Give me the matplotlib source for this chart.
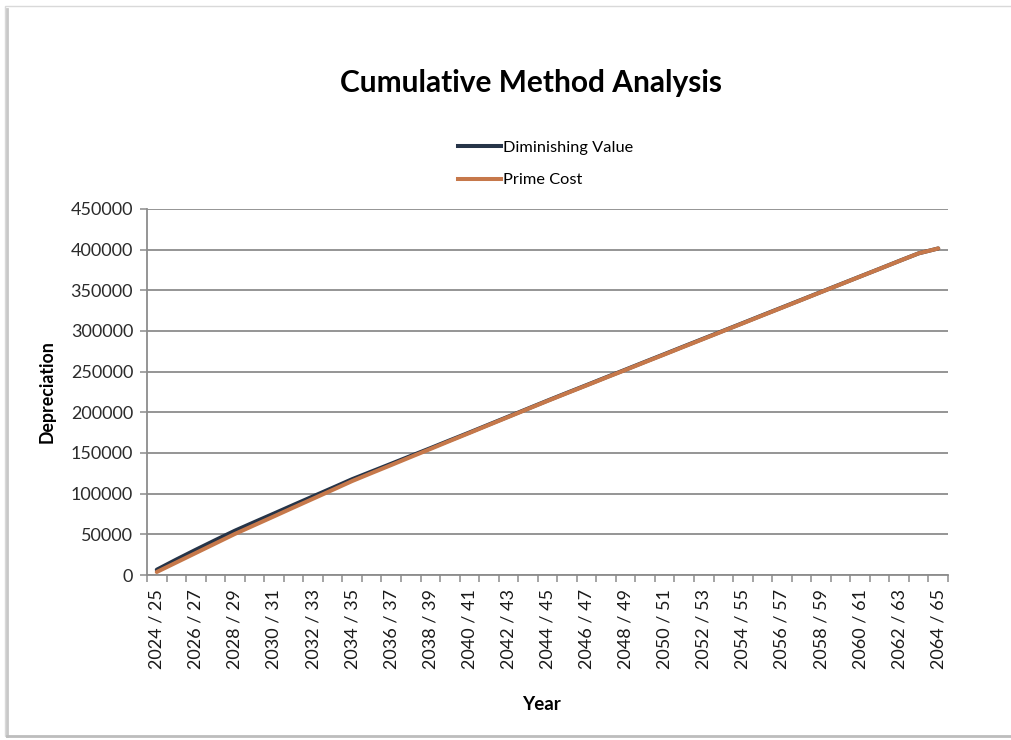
import matplotlib
matplotlib.use("Agg")
import matplotlib.pyplot as plt
from matplotlib.lines import Line2D
from matplotlib.patches import Rectangle
from matplotlib.ticker import FixedLocator, NullFormatter

plt.rcParams['font.family'] = ['Lato', 'DejaVu Sans']

# Financial years 2024/25 .. 2064/65
years = [f"{y} / {str(y + 1)[-2:]}" for y in range(2024, 2065)]

# Cumulative depreciation by method
diminishing_value = [
    6500, 19000, 31100, 42900, 54500, 65100, 75600, 86200, 96700, 107200,
    117800, 127300, 136800, 146400, 155900, 165600, 175200, 185000, 194800, 204600,
    214400, 224000, 233500, 243100, 252600, 262200, 271700, 281300, 290800, 300300,
    309800, 319400, 328900, 338400, 348000, 357500, 367000, 376500, 386100, 395500,
    401500,
]
prime_cost = [
    3700, 15400, 27100, 38800, 50500, 61300, 72100, 83000, 93800, 104600,
    115500, 125400, 135200, 145100, 154900, 164800, 174600, 184500, 194300, 204200,
    214000, 223600, 233100, 242700, 252200, 261800, 271300, 280900, 290400, 300000,
    309500, 319100, 328600, 338200, 347800, 357300, 366900, 376400, 386000, 395500,
    401500,
]

y_ticks = list(range(0, 450001, 50000))

W, H = 1011, 740
fig = plt.figure(figsize=(W / 100, H / 100), dpi=100)

# chart-area frame with a soft shadow on the left and bottom
fig.patches.append(Rectangle((5 / W, 4 / H), 1.2, (730) / H, transform=fig.transFigure,
                             fill=False, edgecolor='#d9d9d9', linewidth=1.0))
fig.lines.append(Line2D([7 / W, 7 / W], [4 / H, 1 - 9 / H], transform=fig.transFigure,
                        color='#c8c8c8', linewidth=2.0))
fig.lines.append(Line2D([7 / W, 1.0], [4 / H, 4 / H], transform=fig.transFigure,
                        color='#bdbdbd', linewidth=2.0))

ax = fig.add_axes([147 / W, 1 - 575 / H, (948 - 147) / W, (575 - 209) / H])

x = list(range(len(years)))
dv_color = '#263448'
pc_color = '#C6784A'
lw = 2.9
ax.plot(x, diminishing_value, color=dv_color, linewidth=lw, solid_capstyle='round',
        label='Diminishing Value', zorder=3)
ax.plot(x, prime_cost, color=pc_color, linewidth=lw, solid_capstyle='round',
        label='Prime Cost', zorder=4)

ax.set_xlim(-0.5, len(years) - 0.5)
ax.set_ylim(0, 450000)

grid_color = '#8c8c8c'
ax.set_yticks(y_ticks)
ax.set_yticklabels([str(v) for v in y_ticks])
ax.yaxis.grid(True, color=grid_color, linewidth=1.3)
ax.set_axisbelow(True)

ax.set_xticks(x[::2])
ax.set_xticklabels(years[::2], rotation=90)
ax.xaxis.set_minor_locator(FixedLocator([i - 0.5 for i in range(len(years) + 1)]))
ax.xaxis.set_minor_formatter(NullFormatter())
ax.tick_params(axis='x', which='major', length=0, pad=10, labelsize=13, labelcolor='#1a1a1a')
ax.tick_params(axis='x', which='minor', length=5, width=1.1, color=grid_color)
ax.tick_params(axis='y', length=5, width=1.1, color=grid_color, pad=5,
               labelsize=13, labelcolor='#2b2b2b')

for side in ('top', 'right'):
    ax.spines[side].set_visible(False)
for side in ('left', 'bottom'):
    ax.spines[side].set_color(grid_color)
    ax.spines[side].set_linewidth(1.3)

fig.text(531 / W, 1 - 83 / H, 'Cumulative Method Analysis', ha='center', va='center',
         fontsize=21.5, fontweight='bold', color='black')
fig.text(47 / W, 1 - 392 / H, 'Depreciation', rotation=90, ha='center', va='center',
         fontsize=12.8, fontweight='bold', color='black')
fig.text(541 / W, 1 - 705 / H, 'Year', ha='center', va='center',
         fontsize=13.5, fontweight='bold', color='black')

handles = [Line2D([], [], color=dv_color, linewidth=lw),
           Line2D([], [], color=pc_color, linewidth=lw)]
fig.legend(handles, ['Diminishing Value', 'Prime Cost'], loc='center left',
           bbox_to_anchor=(458 / W, 1 - 164 / H), frameon=False, fontsize=11.8,
           handlelength=2.6, handletextpad=0.15, labelspacing=1.1, borderpad=0,
           borderaxespad=0)

fig.savefig('out.png', dpi=100, facecolor='white')
